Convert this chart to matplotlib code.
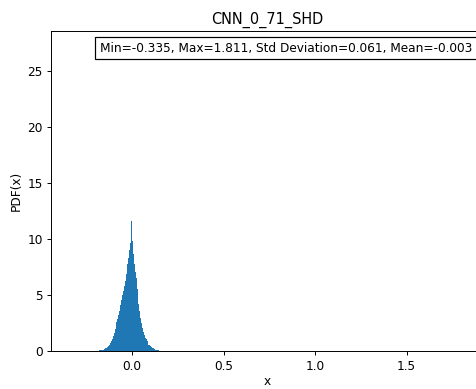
import numpy as np
import matplotlib
matplotlib.use("Agg")
import matplotlib.pyplot as plt
from matplotlib.offsetbox import AnchoredText

title = "CNN_0_71_SHD"
stat_min = -0.335
stat_max = 1.811
stat_std = 0.061
stat_mean = -0.003
y_top = 28.6

bin_start = -0.200
bin_width = 0.005
densities = [
    0.03, 0.04, 0.05, 0.06, 0.08, 0.09, 0.11, 0.13, 0.15, 0.17,
    0.20, 0.25, 0.30, 0.37, 0.45, 0.55, 0.70, 0.88, 1.10, 1.35,
    1.60, 1.95, 2.30, 2.60, 2.90, 3.25, 3.60, 4.10, 4.60, 5.00,
    5.40, 5.85, 6.30, 6.85, 7.40, 7.80, 8.30, 9.00, 9.70, 11.60,
    9.80, 8.70, 7.80, 7.10, 6.50, 5.60, 4.80, 4.20, 3.60, 3.00,
    2.50, 2.10, 1.70, 1.45, 1.20, 1.05, 0.90, 0.75, 0.60, 0.52,
    0.45, 0.37, 0.30, 0.25, 0.20, 0.15, 0.12, 0.10, 0.08, 0.06,
    0.05, 0.04, 0.03, 0.02, 0.02, 0.01,
]

edges = bin_start + bin_width * np.arange(len(densities) + 1)
centers = (edges[:-1] + edges[1:]) / 2

DPI = 87
fig = plt.figure(figsize=(477 / DPI, 389 / DPI), dpi=DPI)
ax = fig.add_axes([0.107, 0.097, 0.906, 0.824])
ax.hist(centers, bins=edges, weights=densities, color="C0")

span = stat_max - stat_min
ax.set_xlim(stat_min - 0.05 * span, stat_max + 0.05 * span)
ax.set_ylim(0, y_top)
ax.set_title(title)
ax.set_xlabel("x", labelpad=1.5)
ax.set_ylabel("PDF(x)")

txt = (f"Min={stat_min:.3f}, Max={stat_max:.3f}, "
       f"Std Deviation={stat_std:.3f}, Mean={stat_mean:.3f}")
at = AnchoredText(txt, loc="upper right")
ax.add_artist(at)

fig.savefig("out.png", dpi=DPI)
